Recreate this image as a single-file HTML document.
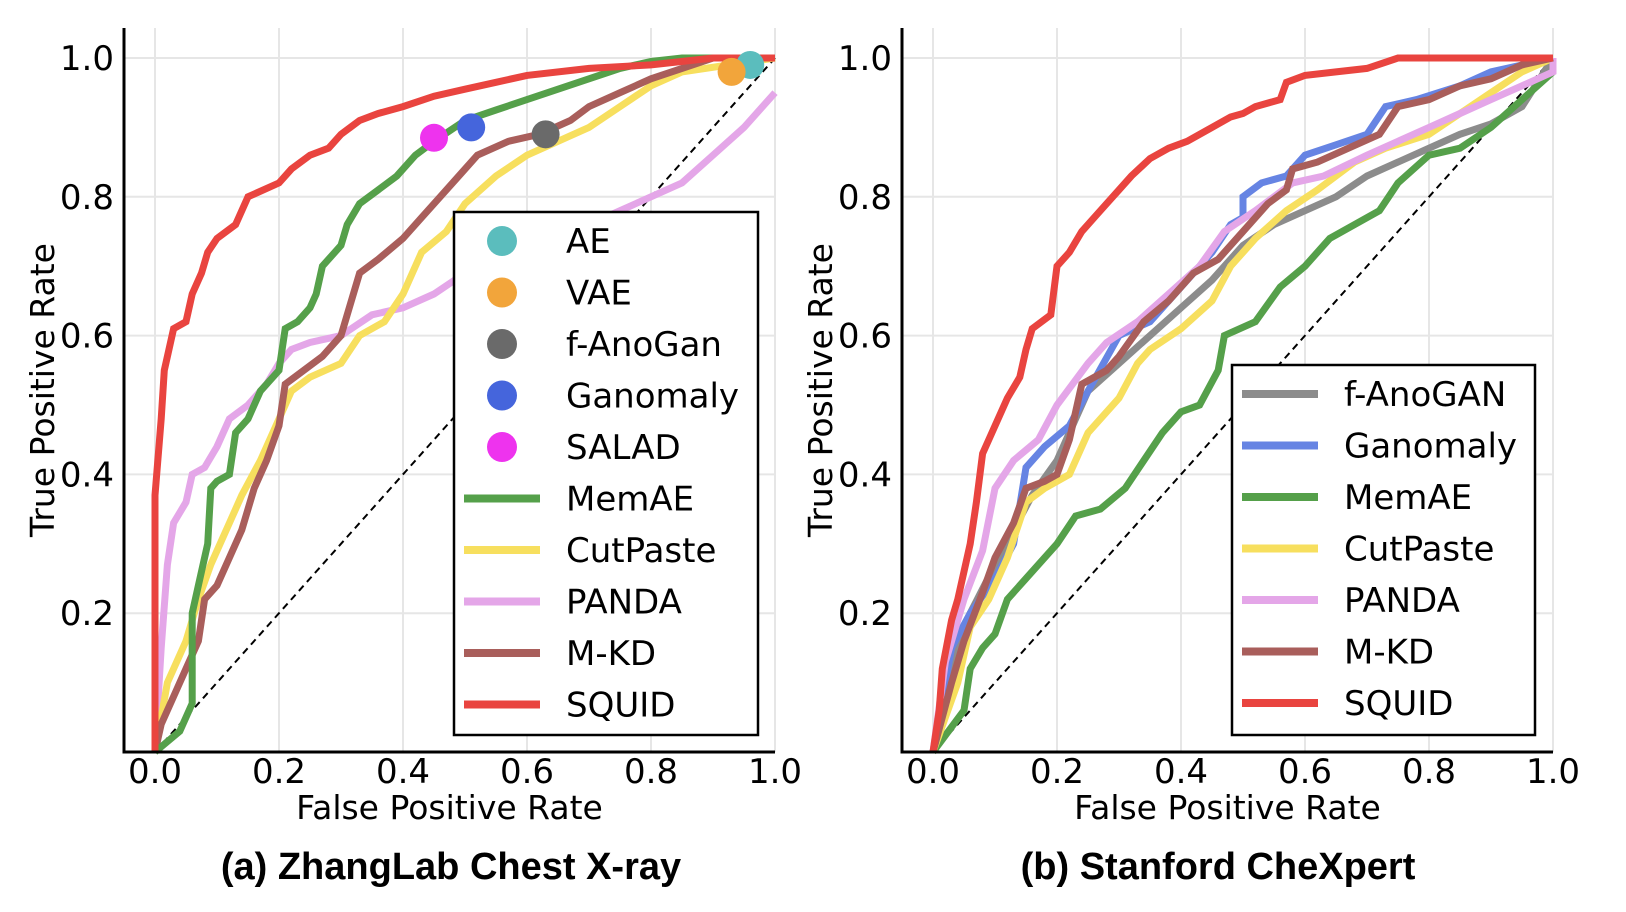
<!DOCTYPE html>
<html><head><meta charset="utf-8"><style>
html,body{margin:0;padding:0;background:#fff;}
svg{display:block;font-family:"DejaVu Sans","Liberation Sans",sans-serif;}
</style></head><body>
<svg id="fig" width="1626" height="912" viewBox="0 0 1626 912" xmlns="http://www.w3.org/2000/svg">
<text x="451" y="879" font-family="Liberation Sans, sans-serif" font-size="38" font-weight="bold" text-anchor="middle">(a) ZhangLab Chest X-ray</text>
<text x="1218" y="879" font-family="Liberation Sans, sans-serif" font-size="38" font-weight="bold" text-anchor="middle">(b) Stanford CheXpert</text>
</svg>
<script>
const ticks=[0,0.2,0.4,0.6,0.8,1.0];
const tickLabels=["0.0","0.2","0.4","0.6","0.8","1.0"];
// Panel A series
const aSquidX=[0,0,0.01,0.015,0.03,0.05,0.06,0.075,0.085,0.1,0.13,0.15,0.2,0.22,0.25,0.28,0.3,0.33,0.36,0.4,0.45,0.5,0.55,0.6,0.7,0.8,0.9,1];
const aSquidY=[0,0.37,0.48,0.55,0.61,0.62,0.66,0.69,0.72,0.74,0.76,0.8,0.82,0.84,0.86,0.87,0.89,0.91,0.92,0.93,0.945,0.955,0.965,0.975,0.985,0.99,1,1];
const aMemX=[0,0.04,0.06,0.06,0.07,0.085,0.09,0.1,0.12,0.13,0.15,0.17,0.2,0.21,0.23,0.25,0.26,0.27,0.29,0.3,0.31,0.33,0.36,0.39,0.42,0.45,0.5,0.55,0.6,0.65,0.7,0.75,0.8,0.85,1];
const aMemY=[0,0.03,0.07,0.2,0.24,0.3,0.38,0.39,0.4,0.46,0.48,0.52,0.55,0.61,0.62,0.64,0.66,0.7,0.72,0.73,0.76,0.79,0.81,0.83,0.86,0.88,0.91,0.925,0.94,0.955,0.97,0.985,0.995,1,1];
const aCutX=[0,0.02,0.05,0.07,0.09,0.12,0.14,0.17,0.2,0.22,0.25,0.3,0.33,0.37,0.4,0.43,0.47,0.5,0.55,0.6,0.65,0.7,0.75,0.8,0.85,1];
const aCutY=[0,0.1,0.16,0.22,0.27,0.33,0.37,0.42,0.48,0.52,0.54,0.56,0.6,0.62,0.66,0.72,0.75,0.79,0.83,0.86,0.88,0.9,0.93,0.96,0.98,1];
const aPandaX=[0,0.01,0.02,0.03,0.05,0.06,0.08,0.1,0.12,0.15,0.18,0.2,0.22,0.25,0.3,0.35,0.4,0.45,0.5,0.55,0.6,0.7,0.75,0.8,0.85,0.9,0.95,1];
const aPandaY=[0,0.15,0.27,0.33,0.36,0.4,0.41,0.44,0.48,0.5,0.53,0.56,0.58,0.59,0.6,0.63,0.64,0.66,0.69,0.72,0.74,0.76,0.78,0.8,0.82,0.86,0.9,0.95];
const aMkdX=[0,0.01,0.03,0.05,0.07,0.08,0.1,0.12,0.14,0.16,0.18,0.2,0.21,0.24,0.27,0.3,0.31,0.33,0.36,0.4,0.43,0.46,0.49,0.52,0.57,0.62,0.67,0.7,0.75,0.8,0.85,0.9,1];
const aMkdY=[0,0.04,0.08,0.12,0.16,0.22,0.24,0.28,0.32,0.38,0.42,0.47,0.53,0.55,0.57,0.6,0.63,0.69,0.71,0.74,0.77,0.8,0.83,0.86,0.88,0.89,0.91,0.93,0.95,0.97,0.985,1,1];
const aPointNames=["AE","VAE","f-AnoGan","Ganomaly","SALAD"];
const aPointX=[0.96,0.93,0.63,0.51,0.45];
const aPointY=[0.99,0.98,0.89,0.90,0.885];
// Panel B series
const bSquidX=[0,0.01,0.015,0.03,0.04,0.06,0.07,0.08,0.1,0.12,0.14,0.15,0.16,0.19,0.2,0.22,0.24,0.26,0.28,0.3,0.32,0.35,0.38,0.41,0.45,0.48,0.5,0.52,0.56,0.57,0.6,0.65,0.7,0.75,1];
const bSquidY=[0,0.06,0.12,0.19,0.22,0.3,0.36,0.43,0.47,0.51,0.54,0.58,0.61,0.63,0.7,0.72,0.75,0.77,0.79,0.81,0.83,0.855,0.87,0.88,0.9,0.915,0.92,0.93,0.94,0.965,0.975,0.98,0.985,1,1];
const bGanX=[0,0.03,0.06,0.1,0.13,0.15,0.18,0.22,0.25,0.3,0.35,0.4,0.45,0.48,0.5,0.5,0.53,0.57,0.6,0.65,0.7,0.73,0.78,0.85,0.9,1];
const bGanY=[0,0.15,0.2,0.25,0.3,0.41,0.44,0.47,0.52,0.6,0.62,0.67,0.72,0.76,0.77,0.8,0.82,0.83,0.86,0.875,0.89,0.93,0.94,0.96,0.98,1];
const bFanoX=[0,0.03,0.06,0.1,0.13,0.16,0.2,0.25,0.3,0.35,0.4,0.45,0.5,0.55,0.6,0.65,0.7,0.75,0.8,0.85,0.9,0.95,1];
const bFanoY=[0,0.12,0.2,0.27,0.32,0.37,0.42,0.52,0.56,0.6,0.64,0.68,0.73,0.76,0.78,0.8,0.83,0.85,0.87,0.89,0.905,0.93,1];
const bMemX=[0,0.05,0.06,0.08,0.1,0.12,0.15,0.2,0.23,0.27,0.31,0.34,0.37,0.4,0.43,0.46,0.47,0.52,0.56,0.6,0.64,0.68,0.72,0.75,0.8,0.85,0.9,0.95,1,1];
const bMemY=[0,0.06,0.12,0.15,0.17,0.22,0.25,0.3,0.34,0.35,0.38,0.42,0.46,0.49,0.5,0.55,0.6,0.62,0.67,0.7,0.74,0.76,0.78,0.82,0.86,0.87,0.9,0.94,0.98,1];
const bCutX=[0,0.04,0.06,0.09,0.12,0.15,0.18,0.22,0.25,0.3,0.33,0.35,0.4,0.45,0.48,0.52,0.57,0.62,0.68,0.73,0.8,0.85,0.9,0.95,1];
const bCutY=[0,0.1,0.18,0.22,0.28,0.36,0.38,0.4,0.46,0.51,0.56,0.58,0.61,0.65,0.7,0.74,0.78,0.81,0.85,0.87,0.89,0.92,0.95,0.98,1];
const bPandaX=[0,0.02,0.05,0.08,0.1,0.13,0.17,0.2,0.25,0.28,0.33,0.38,0.43,0.47,0.52,0.58,0.63,0.7,0.75,0.8,0.85,0.9,0.95,1,1];
const bPandaY=[0,0.13,0.22,0.29,0.38,0.42,0.45,0.5,0.56,0.59,0.62,0.66,0.7,0.75,0.78,0.82,0.83,0.86,0.88,0.9,0.92,0.94,0.96,0.98,1];
const bMkdX=[0,0.03,0.05,0.08,0.1,0.13,0.15,0.18,0.2,0.22,0.24,0.28,0.3,0.34,0.38,0.42,0.46,0.5,0.54,0.57,0.58,0.62,0.67,0.72,0.75,0.8,0.85,0.9,0.95,1];
const bMkdY=[0,0.1,0.16,0.23,0.28,0.33,0.38,0.39,0.4,0.45,0.53,0.55,0.57,0.62,0.65,0.69,0.71,0.75,0.79,0.81,0.84,0.85,0.87,0.89,0.93,0.94,0.96,0.97,0.99,1];

const NS="http://www.w3.org/2000/svg";
const svg=document.getElementById('fig');
function mk(tag,attrs,parent){const e=document.createElementNS(NS,tag);for(const k in attrs)e.setAttribute(k,attrs[k]);(parent||svg).appendChild(e);return e;}

function panel(id,x0,x1,lines,points,legend){
  const yTop=58,yBot=752;
  const sx=v=>x0+v*(x1-x0);
  const sy=v=>yBot-v*(yBot-yTop);
  const g=mk('g',{});
  
  
  const spineX=sx(-0.05);
  ticks.forEach((t,i)=>{
    const gx=mk('line',{x1:sx(t),x2:sx(t),y1:28,y2:yBot,stroke:'#e6e6e6','stroke-width':2},g);
    
    
    const tx=mk('text',{x:sx(t),y:783,'font-size':34,'text-anchor':'middle'},g);
    tx.textContent=tickLabels[i];
    
    
    if(t>0){
      const gy=mk('line',{x1:spineX,x2:sx(1),y1:sy(t),y2:sy(t),stroke:'#e6e6e6','stroke-width':2},g);
      
      
      const ty=mk('text',{x:spineX-10,y:sy(t)+12,'font-size':34,'text-anchor':'end'},g);
      ty.textContent=tickLabels[i];
      
      
    }
  });
  const diag=mk('line',{x1:sx(0),y1:sy(0),x2:sx(1),y2:sy(1),stroke:'#000','stroke-width':2,'stroke-dasharray':'7,5'},g);
  
  
  lines.forEach(l=>{
    const pts=l.x.map((v,i)=>sx(v).toFixed(1)+','+sy(l.y[i]).toFixed(1)).join(' ');
    const p=mk('polyline',{points:pts,fill:'none',stroke:l.c,'stroke-width':7,'stroke-linejoin':'miter'},g);
    
    
  });
  points.forEach(p=>{
    const c=mk('circle',{cx:sx(p.x),cy:sy(p.y),r:14,fill:p.c},g);
    
    
  });
  const ax=mk('path',{d:`M${spineX},28 V${yBot} H${sx(1)}`,fill:'none',stroke:'#000','stroke-width':3},g);
  
  
  const xl=mk('text',{x:(spineX+sx(1))/2,y:819,'font-size':33,'text-anchor':'middle'},g);
  xl.textContent='False Positive Rate';
  
  
  const yl=mk('text',{x:0,y:0,'font-size':33,'text-anchor':'middle',transform:`translate(${spineX-70},390) rotate(-90)`},g);
  yl.textContent='True Positive Rate';
  
  
  const L=legend;
  const lg=mk('g',{},g);
  
  
  mk('rect',{x:L.x,y:L.y,width:L.w,height:L.h,fill:'#fff',stroke:'#000','stroke-width':2.5},lg);
  L.items.forEach((it,i)=>{
    const cy=L.y+29+i*51.5;
    let m;
    if(it.t==='pt') m=mk('circle',{cx:L.x+48,cy:cy,r:15,fill:it.c},lg);
    else m=mk('line',{x1:L.x+10,x2:L.x+86,y1:cy,y2:cy,stroke:it.c,'stroke-width':8},lg);
    
    
    const t=mk('text',{x:L.x+112,y:cy+12,'font-size':34},lg);
    t.textContent=it.n;
    
    
  });
}
const C={green:'#55a04a',yellow:'#f7df5e',pink:'#e4a6e8',brown:'#a95e5b',red:'#e9443f',gray:'#8c8c8c',blue:'#6684e3'};
panel('zhanglab',155,775,[
 {n:'PANDA',x:aPandaX,y:aPandaY,c:C.pink},
 {n:'CutPaste',x:aCutX,y:aCutY,c:C.yellow},
 {n:'M-KD',x:aMkdX,y:aMkdY,c:C.brown},
 {n:'MemAE',x:aMemX,y:aMemY,c:C.green},
 {n:'SQUID',x:aSquidX,y:aSquidY,c:C.red}],
 aPointNames.map((n,i)=>({n:n,x:aPointX[i],y:aPointY[i],c:['#5bbdbd','#f2a53b','#6a6a6a','#4565dc','#ee33ee'][i]})),
 {x:454,y:212,w:304,h:523,items:[
  {t:'pt',n:'AE',c:'#5bbdbd'},{t:'pt',n:'VAE',c:'#f2a53b'},{t:'pt',n:'f-AnoGan',c:'#6a6a6a'},{t:'pt',n:'Ganomaly',c:'#4565dc'},{t:'pt',n:'SALAD',c:'#ee33ee'},
  {t:'ln',n:'MemAE',c:C.green},{t:'ln',n:'CutPaste',c:C.yellow},{t:'ln',n:'PANDA',c:C.pink},{t:'ln',n:'M-KD',c:C.brown},{t:'ln',n:'SQUID',c:C.red}]});
panel('chexpert',933,1553,[
 {n:'f-AnoGAN',x:bFanoX,y:bFanoY,c:C.gray},
 {n:'Ganomaly',x:bGanX,y:bGanY,c:C.blue},
 {n:'MemAE',x:bMemX,y:bMemY,c:C.green},
 {n:'CutPaste',x:bCutX,y:bCutY,c:C.yellow},
 {n:'PANDA',x:bPandaX,y:bPandaY,c:C.pink},
 {n:'M-KD',x:bMkdX,y:bMkdY,c:C.brown},
 {n:'SQUID',x:bSquidX,y:bSquidY,c:C.red}],[],
 {x:1232,y:365,w:303,h:370,items:[
  {t:'ln',n:'f-AnoGAN',c:C.gray},{t:'ln',n:'Ganomaly',c:C.blue},{t:'ln',n:'MemAE',c:C.green},{t:'ln',n:'CutPaste',c:C.yellow},{t:'ln',n:'PANDA',c:C.pink},{t:'ln',n:'M-KD',c:C.brown},{t:'ln',n:'SQUID',c:C.red}]});
</script>
</body></html>
